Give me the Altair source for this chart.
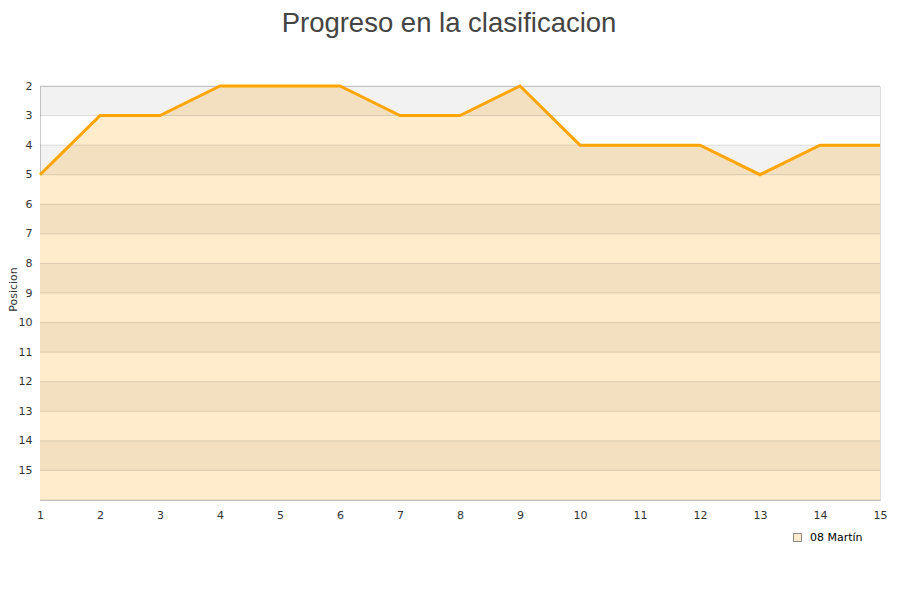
import altair as alt
import pandas as pd

jornadas = list(range(1, 16))
posiciones = [5, 3, 3, 2, 2, 2, 3, 3, 2, 4, 4, 4, 5, 4, 4]
equipo = "08 Martín"
band_starts = [2, 4, 6, 8, 10, 12, 14]
grid_values = list(range(2, 17))
y_labels = list(range(2, 16))

df = pd.DataFrame({"Jornada": jornadas, "Posicion": posiciones, "Equipo": [equipo] * len(jornadas)})
bands = pd.DataFrame({"y1": band_starts, "y2": [b + 1 for b in band_starts]})
grid = pd.DataFrame({"g": grid_values})

W, H = 840, 414
yscale = alt.Scale(domain=[2, 16], reverse=True, nice=False, zero=False)
xscale = alt.Scale(domain=[1, 15], nice=False)

xaxis = alt.Axis(title=None, values=jornadas, grid=False, ticks=False, domain=True,
                 domainColor="#cccccc", labelFont="DejaVu Sans", labelFontSize=11,
                 labelColor="#333333", labelPadding=9, format="d", labelFlush=False,
                 labelOverlap=False)
yaxis = alt.Axis(title="Posicion", values=y_labels, tickCount=14, grid=False, ticks=False,
                 labelOverlap=False, domain=True, domainColor="#cccccc",
                 labelFont="DejaVu Sans", labelFontSize=11, labelColor="#333333",
                 titleFont="DejaVu Sans", titleFontSize=11, titleFontWeight="normal",
                 titleColor="#333333", labelPadding=8, titleX=-27, titleY=203,
                 titleBaseline="middle", titleAlign="center", titleAngle=270,
                 format="d", labelFlush=False)

area_layer = alt.Chart(df).mark_area(opacity=1).encode(
    x=alt.X("Jornada:Q", scale=xscale, axis=xaxis),
    y=alt.Y("Posicion:Q", scale=yscale, axis=yaxis),
    y2=alt.datum(16),
    fill=alt.Fill("Equipo:N", scale=alt.Scale(domain=[equipo], range=["#FFECCC"]),
                  legend=alt.Legend(title=None, orient="none", legendX=752, legendY=446,
                                    symbolType="square", symbolSize=64, labelOffset=7,
                                    labelFont="DejaVu Sans", labelFontSize=11,
                                    labelColor="#000000", symbolStrokeColor="#888888",
                                    symbolStrokeWidth=1)),
)

band_layer = alt.Chart(bands).mark_rect(color="#000000", opacity=0.05).encode(
    y=alt.Y("y1:Q", scale=yscale, axis=yaxis),
    y2="y2:Q",
    x=alt.value(0),
    x2=alt.value(W),
)

grid_layer = alt.Chart(grid).mark_rule(color="#000000", opacity=0.12, strokeWidth=1).encode(
    y=alt.Y("g:Q", scale=yscale, axis=yaxis),
    x=alt.value(0),
    x2=alt.value(W),
)

line_layer = alt.Chart(df).mark_line(color="#FFA500", strokeWidth=3).encode(
    x=alt.X("Jornada:Q", scale=xscale, axis=xaxis),
    y=alt.Y("Posicion:Q", scale=yscale, axis=yaxis),
)

chart = alt.layer(area_layer, band_layer, grid_layer, line_layer).properties(
    width=W, height=H,
    title=alt.Title("Progreso en la clasificacion", font="Liberation Sans", fontSize=27.5,
                    fontWeight="normal", color="#444444", anchor="middle", offset=43, dx=-11),
    autosize=alt.AutoSizeParams(type="none"),
    padding={"left": 32, "top": 78, "right": 12, "bottom": 76},
).configure_view(stroke="#dddddd")

chart.save("out.html", embed_options={"renderer": "svg", "actions": False})
